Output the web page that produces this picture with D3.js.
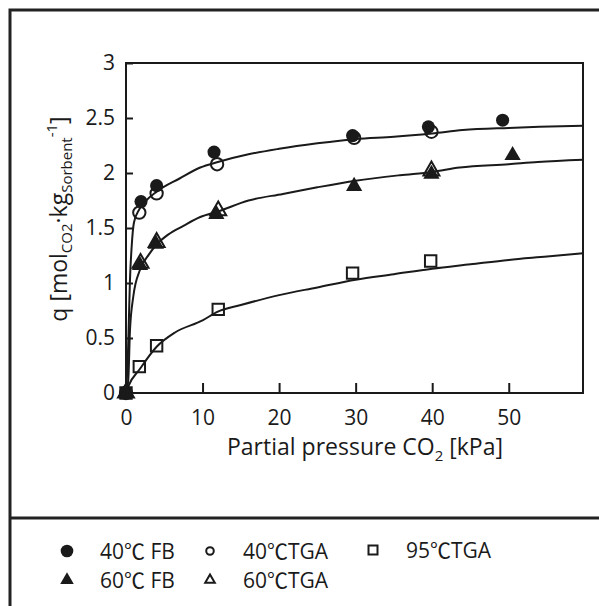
<!DOCTYPE html>
<html>
<head>
<meta charset="utf-8">
<script src="https://cdn.jsdelivr.net/npm/d3@7"></script>
<style>
  body { margin: 0; background: #fff; }
  text { font-family: "Open Sans", "Noto Sans CJK JP", sans-serif; fill: #1a1a1a; }
</style>
</head>
<body>
<div id="chart"></div>
<script>
// measured points [kPa, mol/kg]
const fb40 = [[0, 0], [1.96, 1.74], [4.0, 1.885], [11.5, 2.19], [29.6, 2.34], [39.5, 2.42], [49.2, 2.48]];
const tga40 = [[0, 0], [1.74, 1.64], [4.0, 1.815], [11.9, 2.08], [29.8, 2.32], [39.9, 2.375]];
const fb60 = [[0, 0], [1.83, 1.16], [3.9, 1.355], [11.8, 1.625], [29.8, 1.88], [39.9, 1.99], [50.5, 2.16]];
const tga60 = [[0, 0], [1.9, 1.18], [4.0, 1.37], [12.05, 1.657], [39.9, 2.02]];
const tga95 = [[0, 0], [1.74, 0.24], [4.0, 0.43], [12.05, 0.76], [29.6, 1.09], [39.8, 1.2]];

// fitted isotherm lines
const fit40 = [[0, 0], [0.25, 0.35], [0.4, 0.73], [0.52, 1.03], [0.74, 1.33], [1.04, 1.55], [1.74, 1.67],
  [2.5, 1.74], [4, 1.83], [7, 1.95], [9.7, 2.05], [12, 2.1], [16, 2.17], [20, 2.22], [25, 2.27],
  [30, 2.31], [35, 2.33], [40, 2.36], [44, 2.39], [50, 2.41], [54, 2.42], [59.7, 2.43]];
const fit60 = [[0, 0], [0.3, 0.12], [0.52, 0.57], [0.95, 0.875], [1.83, 1.12], [3, 1.26], [4, 1.35],
  [5.5, 1.44], [7.5, 1.52], [9.7, 1.6], [12, 1.65], [16, 1.75], [20.5, 1.81], [25, 1.87], [30, 1.93],
  [35.8, 1.98], [40, 2.01], [43.6, 2.05], [50, 2.08], [53.8, 2.1], [59.7, 2.12]];
const fit95 = [[0, 0], [0.3, 0.06], [1.83, 0.22], [4, 0.42], [6.4, 0.55], [10, 0.66], [12, 0.74],
  [15, 0.8], [20, 0.89], [25, 0.96], [30, 1.03], [35, 1.08], [40, 1.13], [45, 1.17], [50, 1.21],
  [55, 1.24], [59.7, 1.27]];

const xTicks = [0, 10, 20, 30, 40, 50];
const yTicks = [0, 0.5, 1, 1.5, 2, 2.5, 3];
const legendLabels = ["40℃ FB", "40℃TGA", "95℃TGA", "60℃ FB", "60℃TGA"];

const width = 599;
const height = 606;
const ink = "#1a1a1a";

const svg = d3.select("#chart")
  .append("svg")
  .attr("width", width)
  .attr("height", height)
  .style("background", "#fff");

// outer frame + divider above the legend
svg.append("rect")
  .attr("x", 10).attr("y", 10)
  .attr("width", 620).attr("height", 640)
  .attr("fill", "none").attr("stroke", "#222").attr("stroke-width", 3);
svg.append("line")
  .attr("x1", 10).attr("x2", 610).attr("y1", 518).attr("y2", 518)
  .attr("stroke", "#222").attr("stroke-width", 3);

const xScale = d3.scaleLinear().domain([0, 59.7]).range([126, 583]);
const yScale = d3.scaleLinear().domain([0, 3]).range([393, 63]);

svg.append("rect")
  .attr("x", xScale(0)).attr("y", yScale(3))
  .attr("width", xScale(59.7) - xScale(0))
  .attr("height", yScale(0) - yScale(3))
  .attr("fill", "none").attr("stroke", ink).attr("stroke-width", 2);

const xAxis = d3.axisBottom(xScale)
  .tickValues(xTicks).tickFormat(d => String(d))
  .tickSizeInner(-10).tickSizeOuter(0).tickPadding(17);
const yAxis = d3.axisLeft(yScale)
  .tickValues(yTicks).tickFormat(d => String(d))
  .tickSizeInner(-7).tickSizeOuter(0).tickPadding(11);

const gx = svg.append("g").attr("transform", "translate(0," + yScale(0) + ")").call(xAxis);
const gy = svg.append("g").attr("transform", "translate(" + xScale(0) + ",0)").call(yAxis);
[gx, gy].forEach(g => {
  g.select(".domain").remove();
  g.selectAll(".tick line").attr("stroke", ink).attr("stroke-width", 2);
  g.selectAll(".tick text").attr("font-size", 21).attr("fill", ink)
    .style("font-family", '"Open Sans", sans-serif');
});

// axis titles
const xTitle = svg.append("text")
  .attr("x", 365).attr("y", 455)
  .attr("text-anchor", "middle").attr("font-size", 23);
xTitle.append("tspan").text("Partial pressure CO");
xTitle.append("tspan").attr("font-size", 15).attr("dy", 6).text("2");
xTitle.append("tspan").attr("dy", -6).text(" [kPa]");

const yTitle = svg.append("text")
  .attr("transform", "translate(67,219) rotate(-90)")
  .attr("text-anchor", "middle").attr("font-size", 23);
yTitle.append("tspan").text("q [mol");
yTitle.append("tspan").attr("font-size", 15).attr("dy", 5).text("CO2");
yTitle.append("tspan").attr("dy", -5).text("·kg");
yTitle.append("tspan").attr("font-size", 15).attr("dy", 5).text("Sorbent");
yTitle.append("tspan").attr("font-size", 15).attr("dy", -15).text("-1");
yTitle.append("tspan").attr("dy", 10).text("]");

// fitted lines
const lineGenerator = d3.line()
  .x(d => xScale(d[0]))
  .y(d => yScale(d[1]))
  .curve(d3.curveMonotoneX);

[fit40, fit60, fit95].forEach(fit => {
  svg.append("path")
    .datum(fit)
    .attr("fill", "none")
    .attr("stroke", ink)
    .attr("stroke-width", 2)
    .attr("d", lineGenerator);
});

// markers
const series = [
  { data: tga95, type: d3.symbolSquare, size: 130, filled: false },
  { data: tga40, type: d3.symbolCircle, size: 120, filled: false },
  { data: tga60, type: d3.symbolTriangle, size: 110, filled: false },
  { data: fb40, type: d3.symbolCircle, size: 135, filled: true },
  { data: fb60, type: d3.symbolTriangle, size: 115, filled: true },
];

series.forEach(s => {
  svg.selectAll(null)
    .data(s.data)
    .enter()
    .append("path")
    .attr("transform", d => "translate(" + xScale(d[0]) + "," + yScale(d[1]) + ")")
    .attr("d", d3.symbol(s.type, s.size))
    .attr("fill", s.filled ? ink : "none")
    .attr("stroke", ink)
    .attr("stroke-width", s.filled ? 0 : 2);
});

// legend
const legendItems = [
  { label: legendLabels[0], type: d3.symbolCircle, size: 125, filled: true, x: 67, y: 551 },
  { label: legendLabels[1], type: d3.symbolCircle, size: 45, filled: false, x: 210, y: 551 },
  { label: legendLabels[2], type: d3.symbolSquare, size: 81, filled: false, x: 373, y: 550 },
  { label: legendLabels[3], type: d3.symbolTriangle, size: 80, filled: true, x: 67, y: 580 },
  { label: legendLabels[4], type: d3.symbolTriangle, size: 40, filled: false, x: 210, y: 580 },
];

legendItems.forEach(item => {
  svg.append("path")
    .attr("transform", "translate(" + item.x + "," + item.y + ")")
    .attr("d", d3.symbol(item.type, item.size))
    .attr("fill", item.filled ? ink : "none")
    .attr("stroke", ink)
    .attr("stroke-width", item.filled ? 0 : 2);
  svg.append("text")
    .attr("x", item.x + 33)
    .attr("y", item.y + 8)
    .attr("font-size", 21)
    .text(item.label);
});
</script>
</body>
</html>
